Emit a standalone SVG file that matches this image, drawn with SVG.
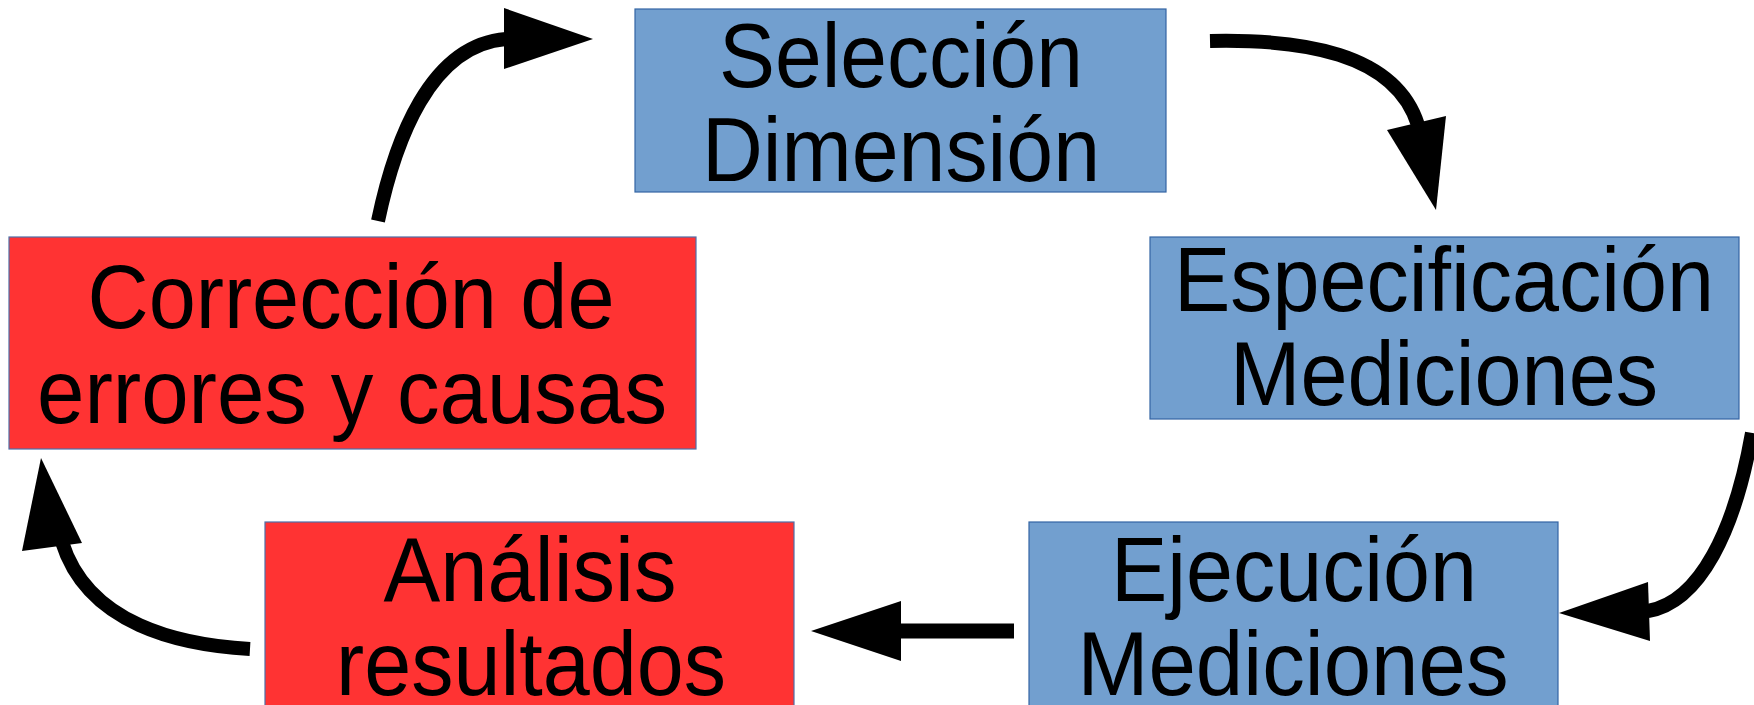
<svg xmlns="http://www.w3.org/2000/svg" width="1754" height="705" viewBox="0 0 1754 705">
<style>
.blue{fill:#729fcf;stroke:#3465a4;stroke-width:1.2}
.red{fill:#ff3333;stroke:#4f6fa8;stroke-width:1.2}
.t{font-family:"Liberation Sans",Arial,sans-serif;font-size:91px;fill:#000;text-anchor:middle}
.c{fill:none;stroke:#000;stroke-width:14}
.h{fill:#000;stroke:none}
</style>
<rect width="1754" height="705" fill="#fff"/>
<g id="connectors">
<path class="c" d="M378,221 C395,140 430,45 506,39"/>
<polygon class="h" points="504,8 593,39 504,69"/>
<path class="c" d="M1210,41 C1300,39 1395,52 1418,125"/>
<polygon class="h" points="1387,130 1446,116 1436,210"/>
<path class="c" d="M1752,433 C1735,530 1700,602 1648,611"/>
<polygon class="h" points="1648,582 1559,613 1650,641"/>
<path class="c" d="M1014,631 L898,631" style="stroke-width:15"/>
<polygon class="h" points="901,601 811,631 901,661"/>
<path class="c" d="M250,649 C180,645 88,625 62,542"/>
<polygon class="h" points="22,551 41,458 82,543"/>
</g>
<g id="n1">
<rect class="blue" x="635" y="9" width="531" height="183"/>
<text class="t" x="901" y="87" textLength="364" lengthAdjust="spacingAndGlyphs">Selección</text>
<text class="t" x="901" y="181" textLength="398" lengthAdjust="spacingAndGlyphs">Dimensión</text>
</g>
<g id="n2">
<rect class="blue" x="1150" y="237" width="589" height="182"/>
<text class="t" x="1444" y="311" textLength="540" lengthAdjust="spacingAndGlyphs">Especificación</text>
<text class="t" x="1444" y="405" textLength="428" lengthAdjust="spacingAndGlyphs">Mediciones</text>
</g>
<g id="n3">
<rect class="blue" x="1029" y="522" width="529" height="200"/>
<text class="t" x="1294" y="601" textLength="366" lengthAdjust="spacingAndGlyphs">Ejecución</text>
<text class="t" x="1293" y="695" textLength="431" lengthAdjust="spacingAndGlyphs">Mediciones</text>
</g>
<g id="n4">
<rect class="red" x="265" y="522" width="529" height="200"/>
<text class="t" x="530" y="601" textLength="293" lengthAdjust="spacingAndGlyphs">Análisis</text>
<text class="t" x="531" y="695" textLength="390" lengthAdjust="spacingAndGlyphs">resultados</text>
</g>
<g id="n5">
<rect class="red" x="9" y="237" width="687" height="212"/>
<text class="t" x="351" y="328" textLength="527" lengthAdjust="spacingAndGlyphs">Corrección de</text>
<text class="t" x="352" y="423" textLength="630" lengthAdjust="spacingAndGlyphs">errores y causas</text>
</g>
</svg>
